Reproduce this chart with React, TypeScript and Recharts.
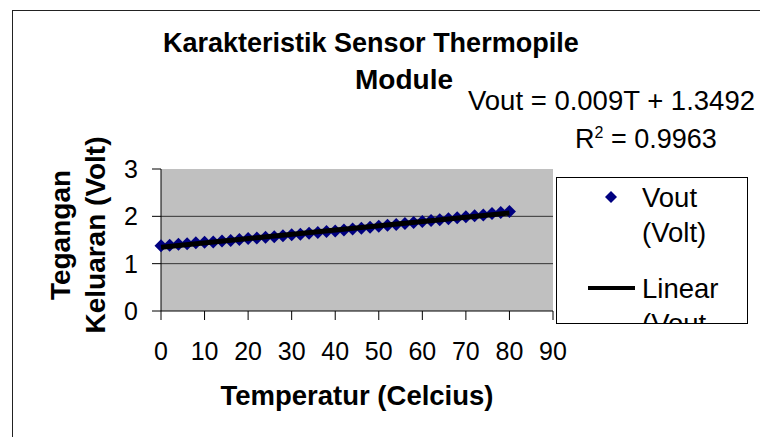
import React from "react";
import {
  ComposedChart,
  Scatter,
  XAxis,
  YAxis,
  CartesianGrid,
} from "recharts";

// measured points: temperature (C) and sensor output (V)
const temps = [
  0, 2, 4, 6, 8, 10, 12, 14, 16, 18, 20, 22, 24, 26, 28, 30, 32, 34, 36, 38,
  40, 42, 44, 46, 48, 50, 52, 54, 56, 58, 60, 62, 64, 66, 68, 70, 72, 74, 76,
  78, 80,
];
const vout = [
  1.38, 1.39, 1.41, 1.42, 1.44, 1.45, 1.46, 1.48, 1.49, 1.51, 1.53, 1.54,
  1.56, 1.57, 1.59, 1.61, 1.62, 1.64, 1.66, 1.68, 1.69, 1.71, 1.73, 1.75,
  1.77, 1.79, 1.81, 1.83, 1.85, 1.87, 1.89, 1.91, 1.93, 1.95, 1.97, 1.99,
  2.01, 2.03, 2.06, 2.08, 2.1,
];

// linear trendline end points (Vout = 0.009T + 1.3492)
const trendTemps = [0, 80];
const trendVout = [1.3492, 2.0692];

const xTicks = [0, 10, 20, 30, 40, 50, 60, 70, 80, 90];
const yTicks = [0, 1, 2, 3];
const gridValues = [1, 2];

const points = temps.map((t, i) => ({ t, v: vout[i] }));
const trend = trendTemps.map((t, i) => ({ t, v: trendVout[i] }));

const FONT = "'Liberation Sans', Arial, sans-serif";
const NAVY = "#000080";

const Diamond = (props: any) => {
  const { cx, cy } = props;
  if (cx == null || cy == null) return null;
  const r = 6.5;
  return (
    <polygon
      points={`${cx},${cy - r} ${cx + r},${cy} ${cx},${cy + r} ${cx - r},${cy}`}
      fill={NAVY}
    />
  );
};

const NoDot = () => null;

const abs = (style: React.CSSProperties): React.CSSProperties => ({
  position: "absolute",
  fontFamily: FONT,
  color: "#000",
  whiteSpace: "nowrap",
  ...style,
});

export default function App() {
  return (
    <div
      style={{
        position: "fixed",
        left: 0,
        top: 0,
        width: 760,
        height: 437,
        background: "#fff",
        overflow: "hidden",
      }}
    >
      {/* chart frame */}
      <div
        style={{
          position: "absolute",
          left: 12,
          top: 10,
          width: 800,
          height: 500,
          border: "1.5px solid #222",
        }}
      />

      <div style={{ position: "absolute", left: 0, top: 0 }}>
        <ComposedChart
          width={760}
          height={437}
          margin={{ top: 169, right: 207, left: 101, bottom: 86 }}
        >
          <CartesianGrid
            fill="#C0C0C0"
            vertical={false}
            stroke="#333"
            horizontalValues={gridValues}
          />
          <XAxis
            type="number"
            dataKey="t"
            domain={[0, 90]}
            ticks={xTicks}
            interval={0}
            stroke="#000"
            tickSize={9}
            tickMargin={22}
            height={40}
            tick={{ fill: "#000", fontSize: 25, fontFamily: FONT }}
          />
          <YAxis
            type="number"
            dataKey="v"
            domain={[0, 3]}
            ticks={yTicks}
            interval={0}
            stroke="#000"
            tickSize={9}
            tickMargin={14}
            width={60}
            tick={{ fill: "#000", fontSize: 25, fontFamily: FONT }}
          />
          <Scatter
            name="Vout (Volt)"
            data={points}
            dataKey="v"
            shape={<Diamond />}
            isAnimationActive={false}
          />
          <Scatter
            name="Linear (Vout (Volt))"
            data={trend}
            dataKey="v"
            line={{ stroke: "#000", strokeWidth: 5 }}
            lineType="joint"
            shape={<NoDot />}
            isAnimationActive={false}
          />
        </ComposedChart>
      </div>

      {/* title */}
      <div
        style={abs({
          left: 163,
          top: 28,
          width: 414,
          textAlign: "center",
          fontSize: 27,
          fontWeight: "bold",
        })}
      >
        Karakteristik Sensor Thermopile
      </div>
      <div
        style={abs({ left: 355, top: 64, fontSize: 28, fontWeight: "bold" })}
      >
        Module
      </div>

      {/* trendline equation */}
      <div style={abs({ left: 468, top: 85, fontSize: 27.5 })}>
        Vout = 0.009T + 1.3492
      </div>
      <div style={abs({ left: 575, top: 124, fontSize: 27 })}>
        R<sup style={{ fontSize: 16, verticalAlign: "10px" }}>2</sup> = 0.9963
      </div>

      {/* y axis title */}
      <div
        style={abs({
          left: 78 - 130,
          top: 235 - 35,
          width: 260,
          height: 70,
          textAlign: "center",
          fontSize: 28,
          fontWeight: "bold",
          lineHeight: "35px",
          transform: "rotate(-90deg)",
        })}
      >
        Tegangan
        <br />
        Keluaran (Volt)
      </div>

      {/* x axis title */}
      <div
        style={abs({
          left: 357 - 150,
          top: 380,
          width: 300,
          textAlign: "center",
          fontSize: 27.5,
          fontWeight: "bold",
        })}
      >
        Temperatur (Celcius)
      </div>

      {/* legend */}
      <div
        style={{
          position: "absolute",
          left: 556,
          top: 177,
          width: 190,
          height: 145,
          border: "1px solid #000",
          background: "#fff",
          overflow: "hidden",
        }}
      >
        <svg
          width={190}
          height={145}
          style={{ position: "absolute", left: 0, top: 0 }}
        >
          <polygon points="54,13 60,19 54,25 48,19" fill={NAVY} />
          <line x1={31} y1={110} x2={78} y2={110} stroke="#000" strokeWidth={4} />
        </svg>
        <div
          style={abs({ left: 85, top: 2, fontSize: 27.5, lineHeight: "35px" })}
        >
          Vout
          <br />
          (Volt)
        </div>
        <div
          style={abs({ left: 85, top: 93, fontSize: 27.5, lineHeight: "35px" })}
        >
          Linear
          <br />
          (Vout
        </div>
      </div>
    </div>
  );
}
